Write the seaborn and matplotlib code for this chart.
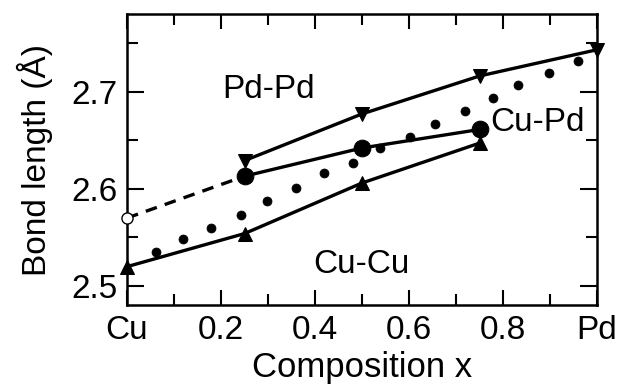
import matplotlib
matplotlib.use("Agg")
import matplotlib.pyplot as plt
from matplotlib.ticker import MultipleLocator
import seaborn as sns

# values
pdpd_x = [0.25, 0.5, 0.75, 1.0]
pdpd_y = [2.629, 2.677, 2.716, 2.743]
cupd_x = [0.25, 0.5, 0.75]
cupd_y = [2.613, 2.642, 2.661]
cupd_extrap_x = [0.0, 0.25]
cupd_extrap_y = [2.570, 2.613]
cucu_x = [0.0, 0.25, 0.5, 0.75]
cucu_y = [2.520, 2.554, 2.606, 2.647]
dots_x = [0.062, 0.120, 0.179, 0.243, 0.298, 0.360, 0.419, 0.481, 0.538,
          0.602, 0.655, 0.719, 0.779, 0.832, 0.898, 0.960]
dots_y = [2.535, 2.548, 2.560, 2.573, 2.587, 2.601, 2.616, 2.627, 2.642,
          2.653, 2.667, 2.680, 2.693, 2.707, 2.719, 2.731]
xtick_pos = [0.0, 0.2, 0.4, 0.6, 0.8, 1.0]
xtick_labels = ["Cu", "0.2", "0.4", "0.6", "0.8", "Pd"]
ytick_pos = [2.5, 2.6, 2.7]

sns.set_style("ticks")
plt.rcParams["font.family"] = ["Liberation Sans", "DejaVu Sans"]
plt.rcParams["text.color"] = "black"
plt.rcParams["axes.labelcolor"] = "black"

fig = plt.figure(figsize=(6.21, 3.92), dpi=100)
ax = fig.add_axes([0.2045, 0.222, 0.757, 0.742])

lw = 2.4
sns.lineplot(x=pdpd_x, y=pdpd_y, ax=ax, color="black", lw=lw, marker="v",
             markersize=10, markeredgecolor="black", sort=False, clip_on=False)
sns.lineplot(x=cupd_x, y=cupd_y, ax=ax, color="black", lw=lw, marker="o",
             markersize=12, markeredgecolor="black", sort=False, clip_on=False)
sns.lineplot(x=cupd_extrap_x, y=cupd_extrap_y, ax=ax, color="black", lw=lw,
             sort=False, dashes=False, linestyle=(0, (3.5, 2.5)))
ax.plot(cupd_extrap_x[:1], cupd_extrap_y[:1], marker="o", markersize=8,
        markerfacecolor="white", markeredgecolor="black", mew=1.0,
        clip_on=False, zorder=5)
sns.lineplot(x=cucu_x, y=cucu_y, ax=ax, color="black", lw=lw, marker="^",
             markersize=10, markeredgecolor="black", sort=False, clip_on=False)
sns.scatterplot(x=dots_x, y=dots_y, ax=ax, color="black", s=42,
                edgecolor="black", clip_on=False)

ax.set_xlim(0, 1)
ax.set_ylim(2.4806, 2.7796)
ax.set_xticks(xtick_pos)
ax.set_xticklabels(xtick_labels)
ax.set_yticks(ytick_pos)
ax.xaxis.set_minor_locator(MultipleLocator(0.1))
ax.yaxis.set_minor_locator(MultipleLocator(0.05))
ax.tick_params(which="both", direction="in", top=True, right=True,
               labelsize=24, width=1.5, pad=7, colors="black")
ax.tick_params(which="major", length=11)
ax.tick_params(which="minor", length=8)
ax.tick_params(axis="y", which="major", length=12)
for sp in ax.spines.values():
    sp.set_linewidth(1.8)
    sp.set_color("black")

ax.set_xlabel("Composition x", fontsize=25, labelpad=4)
ax.set_ylabel("Bond length (Å)", fontsize=24, labelpad=13)

ax.text(0.202, 2.693, "Pd-Pd", fontsize=24, va="baseline", ha="left")
ax.text(0.772, 2.659, "Cu-Pd", fontsize=24, va="baseline", ha="left")
ax.text(0.396, 2.513, "Cu-Cu", fontsize=24, va="baseline", ha="left")

fig.savefig("out.png", dpi=100)
